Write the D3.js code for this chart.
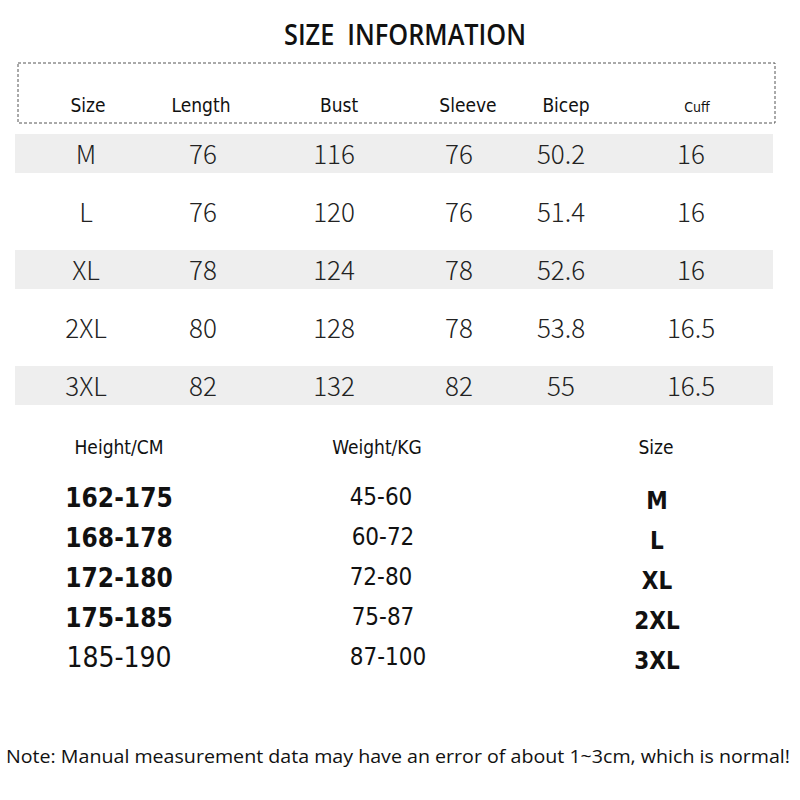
<!DOCTYPE html>
<html><head><meta charset="utf-8">
<script src="https://cdn.jsdelivr.net/npm/d3@7"></script>
<style>html,body{margin:0;padding:0;background:#fff;}</style>
</head><body>
<script>
const headers = ["Size","Length","Bust","Sleeve","Bicep","Cuff"];
const sizes = ["M","L","XL","2XL","3XL"];
const lengthVals = [76,76,78,80,82];
const bustVals = [116,120,124,128,132];
const sleeveVals = [76,76,78,78,82];
const bicepVals = [50.2,51.4,52.6,53.8,55];
const cuffVals = [16,16,16,16.5,16.5];

const fitHeaders = ["Height/CM","Weight/KG","Size"];
const heights = ["162-175","168-178","172-180","175-185","185-190"];
const weights = ["45-60","60-72","72-80","75-87","87-100"];
const fitSizes = ["M","L","XL","2XL","3XL"];

const title = "SIZE\u00A0 INFORMATION";
const note = "Note: Manual measurement data may have an error of about 1~3cm, which is normal!";

const W = 800, H = 800;
const svg = d3.select("body").append("svg").attr("width",W).attr("height",H);

const condensed = "'DejaVu Sans Condensed','Liberation Sans Narrow',sans-serif";
const light = "'Noto Sans CJK SC','Noto Sans',sans-serif";

svg.append("text").attr("x",284).attr("y",45)
  .attr("font-family","'Open Sans',sans-serif").attr("font-weight",600).attr("font-size",29)
  .attr("textLength",242).attr("lengthAdjust","spacingAndGlyphs")
  .attr("fill","#111").text(title);

// dashed header box
svg.append("rect").attr("x",18).attr("y",63).attr("width",757).attr("height",60)
  .attr("fill","none").attr("stroke","#555").attr("stroke-width",1).attr("stroke-dasharray","3,2");

const colX = d3.scaleOrdinal().domain(headers).range([88,201,339,468,566,697]);
const valX = d3.scaleOrdinal().domain(headers).range([86,203,334,459,561,691]);
const rowY = d3.scalePoint().domain(sizes).range([154,386]);

svg.selectAll("text.hdr").data(headers).join("text").attr("class","hdr")
  .attr("x",d=>colX(d)).attr("y",112).attr("text-anchor","middle")
  .attr("font-family",condensed).attr("font-size",d=>d==="Cuff"?14:19).attr("fill","#111")
  .text(d=>d);

// striped rows
svg.selectAll("rect.stripe").data(sizes.filter((d,i)=>i%2===0)).join("rect").attr("class","stripe")
  .attr("x",15).attr("width",758).attr("y",d=>rowY(d)-20).attr("height",39).attr("fill","#eeeeee");

const cols = [sizes,lengthVals,bustVals,sleeveVals,bicepVals,cuffVals];
const cells = [];
sizes.forEach((s,i)=>headers.forEach((h,j)=>cells.push({row:s,col:h,v:cols[j][i]})));
svg.selectAll("text.cell").data(cells).join("text").attr("class","cell")
  .attr("x",d=>valX(d.col)).attr("y",d=>rowY(d.row)+10).attr("text-anchor","middle")
  .attr("font-family",light).attr("font-weight",300).attr("font-size",26).attr("fill","#222")
  .text(d=>d.v);

// fit table
const fitX = d3.scaleOrdinal().domain(fitHeaders).range([119,377,656]);
svg.selectAll("text.fh").data(fitHeaders).join("text").attr("class","fh")
  .attr("x",d=>fitX(d)).attr("y",454).attr("text-anchor","middle")
  .attr("font-family",condensed).attr("font-size",19).attr("fill","#111").text(d=>d);

const fitY = d3.scalePoint().domain(d3.range(5)).range([497,657]);
const bold = "'DejaVu Sans Condensed','Open Sans',sans-serif";
svg.selectAll("text.h").data(heights).join("text").attr("class","h")
  .attr("x",119).attr("y",(d,i)=>fitY(i)+10).attr("text-anchor","middle")
  .attr("font-family",bold).attr("font-weight",(d,i)=>i<4?"bold":"normal").attr("font-size",(d,i)=>i<4?26:28).attr("fill","#111").text(d=>d);
svg.selectAll("text.w").data(weights).join("text").attr("class","w")
  .attr("x",(d,i)=>[382,384,382,384,389][i]-1).attr("y",(d,i)=>fitY(i)+8).attr("text-anchor","middle")
  .attr("font-family",condensed).attr("font-size",24).attr("fill","#111").text(d=>d);
svg.selectAll("text.s").data(fitSizes).join("text").attr("class","s")
  .attr("x",657).attr("y",(d,i)=>fitY(i)+12).attr("text-anchor","middle")
  .attr("font-family",bold).attr("font-weight","bold").attr("font-size",24).attr("fill","#111").text(d=>d);

svg.append("text").attr("x",6).attr("y",763)
  .attr("font-family","'Open Sans',sans-serif").attr("font-size",18)
  .attr("textLength",784).attr("lengthAdjust","spacingAndGlyphs")
  .attr("fill","#111").text(note);
</script>
</body></html>
